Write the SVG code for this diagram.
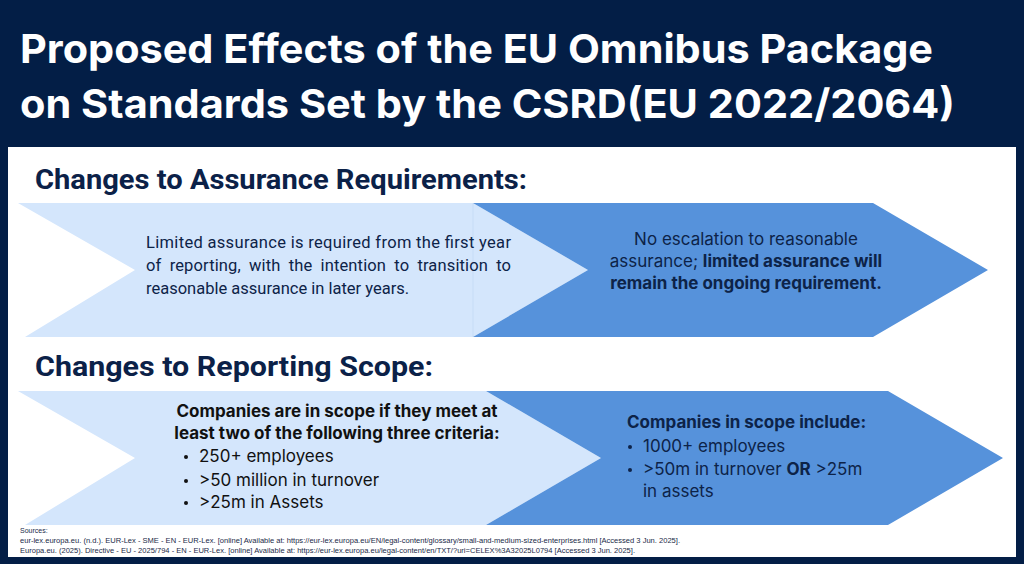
<svg xmlns="http://www.w3.org/2000/svg" width="1024" height="564" viewBox="0 0 1024 564">
<style>
.title{font-family:Inter,"Liberation Sans",sans-serif;font-weight:700;font-size:40px;fill:#ffffff}
.head{font-family:Roboto,"Liberation Sans",sans-serif;font-weight:700;font-size:27px;fill:#0B2148}
.light{fill:#D4E6FC}
.dark{fill:#5692DB}
.rob{font-family:Roboto,"Liberation Sans",sans-serif;font-size:16.5px;fill:#0D2348}
.int{font-family:Inter,"Liberation Sans",sans-serif;font-size:17px}
.navy{fill:#0D2348}
.blk{fill:#111111}
.b{font-weight:700}
.src{font-family:"Liberation Sans",Arial,sans-serif;font-size:7px;fill:#1A2A48}
</style>
<rect x="0" y="0" width="1024" height="564" fill="#031E46"/>
<g id="title">
<text class="title" x="20" y="63" textLength="913" lengthAdjust="spacingAndGlyphs">Proposed Effects of the EU Omnibus Package</text>
<text class="title" x="20" y="118" textLength="935" lengthAdjust="spacingAndGlyphs">on Standards Set by the CSRD(EU 2022/2064)</text>
</g>
<rect id="panel" x="8" y="147" width="1008" height="410" fill="#ffffff"/>
<g id="heading-assurance">
<text class="head" x="35" y="189" textLength="492" lengthAdjust="spacingAndGlyphs">Changes to Assurance Requirements:</text>
</g>
<g id="heading-scope">
<text class="head" x="35" y="376" textLength="398" lengthAdjust="spacingAndGlyphs">Changes to Reporting Scope:</text>
</g>
<g id="assurance-current">
<polygon class="light" points="18,203 473,203 588,270 473,337 25,337 135,270"/>
<line x1="473" y1="203" x2="473" y2="337" stroke="#C6DCF6" stroke-width="1"/>
<text class="rob" x="146" y="248" textLength="365" lengthAdjust="spacing">Limited assurance is required from the first year</text>
<text class="rob" x="146" y="271" word-spacing="4" textLength="365" lengthAdjust="spacing">of reporting, with the intention to transition to</text>
<text class="rob" x="146" y="294">reasonable assurance in later years.</text>
</g>
<g id="assurance-proposed">
<polygon class="dark" points="473,203 873,203 988,270 873,337 473,337 588,270"/>
<text class="int navy" x="746" y="245" text-anchor="middle">No escalation to reasonable</text>
<text class="int navy" x="746" y="267" text-anchor="middle">assurance; <tspan class="b">limited assurance will</tspan></text>
<text class="int navy b" x="746" y="289" text-anchor="middle">remain the ongoing requirement.</text>
</g>
<g id="scope-current">
<polygon class="light" points="18,391 486,391 601,458 486,525 25,525 135,458"/>
<text class="int blk b" x="337" y="417" text-anchor="middle">Companies are in scope if they meet at</text>
<text class="int blk b" x="337" y="439" text-anchor="middle">least two of the following three criteria:</text>
<circle class="blk" cx="186" cy="457" r="2"/>
<circle class="blk" cx="186" cy="481" r="2"/>
<circle class="blk" cx="186" cy="503" r="2"/>
<text class="int blk" x="199" y="462">250+ employees</text>
<text class="int blk" x="199" y="486">&gt;50 million in turnover</text>
<text class="int blk" x="199" y="508">&gt;25m in Assets</text>
</g>
<g id="scope-proposed">
<polygon class="dark" points="486,391 888,391 1003,458 888,525 486,525 601,458"/>
<text class="int navy b" x="627" y="428">Companies in scope include:</text>
<circle class="navy" cx="630" cy="447" r="2"/>
<circle class="navy" cx="630" cy="470" r="2"/>
<text class="int navy" x="643" y="452">1000+ employees</text>
<text class="int navy" x="643" y="475">&gt;50m in turnover <tspan class="b">OR</tspan> &gt;25m</text>
<text class="int navy" x="643" y="497">in assets</text>
</g>
<g id="sources">
<text class="src" x="20" y="533">Sources:</text>
<text class="src" x="20" y="543" textLength="660" lengthAdjust="spacingAndGlyphs">eur-lex.europa.eu. (n.d.). EUR-Lex - SME - EN - EUR-Lex. [online] Available at: https://eur-lex.europa.eu/EN/legal-content/glossary/small-and-medium-sized-enterprises.html [Accessed 3 Jun. 2025].</text>
<text class="src" x="20" y="553" textLength="615" lengthAdjust="spacingAndGlyphs">Europa.eu. (2025). Directive - EU - 2025/794 - EN - EUR-Lex. [online] Available at: https://eur-lex.europa.eu/legal-content/en/TXT/?uri=CELEX%3A32025L0794 [Accessed 3 Jun. 2025].</text>
</g>
</svg>
